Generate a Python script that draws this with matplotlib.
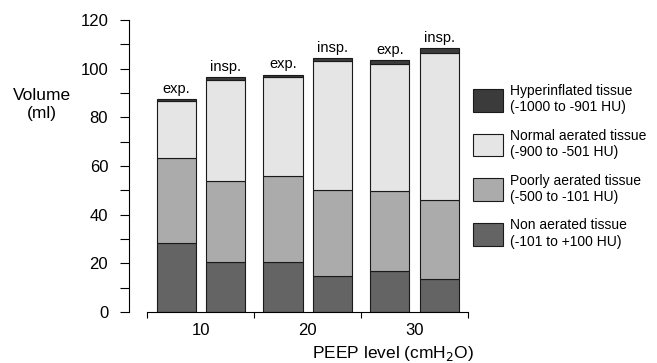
import matplotlib
matplotlib.use('Agg')
import matplotlib.pyplot as plt
import numpy as np

plt.rcParams['font.family'] = ['Liberation Sans', 'DejaVu Sans']

peep = ['10', '20', '30']
phases = ['exp.', 'insp.']
# order of bars: 10 exp, 10 insp, 20 exp, 20 insp, 30 exp, 30 insp
non_aerated = [28.3, 20.5, 20.4, 14.8, 16.7, 13.6]
poorly = [34.9, 33.4, 35.6, 35.5, 33.0, 32.5]
normal = [23.6, 41.6, 40.5, 52.7, 52.2, 60.3]
hyper = [0.8, 1.1, 1.1, 1.2, 1.6, 1.9]

labels = ['Hyperinflated tissue\n(-1000 to -901 HU)',
          'Normal aerated tissue\n(-900 to -501 HU)',
          'Poorly aerated tissue\n(-500 to -101 HU)',
          'Non aerated tissue\n(-101 to +100 HU)']
colors = {'hyper': '#3b3b3b', 'normal': '#e5e5e5', 'poorly': '#ababab', 'non': '#646464'}

fig = plt.figure(figsize=(6.57, 3.63), dpi=100)
ax = fig.add_axes([129 / 657, 51 / 363, 339 / 657, 292 / 363])

x = np.array([g + d for g in range(3) for d in (-0.23, 0.23)])
w = 0.365
kw = dict(width=w, edgecolor='#1a1a1a', linewidth=0.8)

non = np.array(non_aerated)
poor = np.array(poorly)
norm = np.array(normal)
hyp = np.array(hyper)

b_non = ax.bar(x, non, color=colors['non'], **kw)
b_poor = ax.bar(x, poor, bottom=non, color=colors['poorly'], **kw)
b_norm = ax.bar(x, norm, bottom=non + poor, color=colors['normal'], **kw)
b_hyp = ax.bar(x, hyp, bottom=non + poor + norm, color=colors['hyper'], **kw)

tops = non + poor + norm + hyp
for i, (xi, t) in enumerate(zip(x, tops)):
    ax.text(xi, t + 1.3, phases[i % 2], ha='center', va='bottom', fontsize=10.5)

ax.set_ylim(0, 120)
ax.set_xlim(-0.67, 2.5)
ax.spines['top'].set_visible(False)
ax.spines['right'].set_visible(False)
ax.spines['bottom'].set_bounds(-0.5, 2.5)

ax.set_yticks(np.arange(0, 121, 20))
ax.set_yticks(np.arange(10, 120, 20), minor=True)
ax.tick_params(axis='y', which='both', length=6.5, width=0.8, pad=8.5, labelsize=12)

ax.set_xticks([-0.5, 0.5, 1.5, 2.5])
ax.set_xticklabels([])
ax.set_xticks([0, 1, 2], minor=True)
ax.set_xticklabels(peep, minor=True)
ax.tick_params(axis='x', which='major', length=4.5, width=0.8)
ax.tick_params(axis='x', which='minor', length=0, pad=8, labelsize=12)

fig.text(474 / 657, 1 - 358 / 363, 'PEEP level (cmH$_2$O)', ha='right', va='baseline',
         fontsize=12.5)
fig.text(42 / 657, 1 - 104.5 / 363, 'Volume\n(ml)', ha='center', va='center',
         fontsize=12.5, linespacing=1.25)

ax.legend([b_hyp, b_norm, b_poor, b_non], labels, loc='upper left',
          bbox_to_anchor=(473 / 657, 1 - 84 / 363), bbox_transform=fig.transFigure,
          frameon=False, fontsize=10, borderpad=0, borderaxespad=0,
          handlelength=2.15, handleheight=2.15, handletextpad=0.5,
          labelspacing=1.05)

fig.savefig('out.png', dpi=100)
